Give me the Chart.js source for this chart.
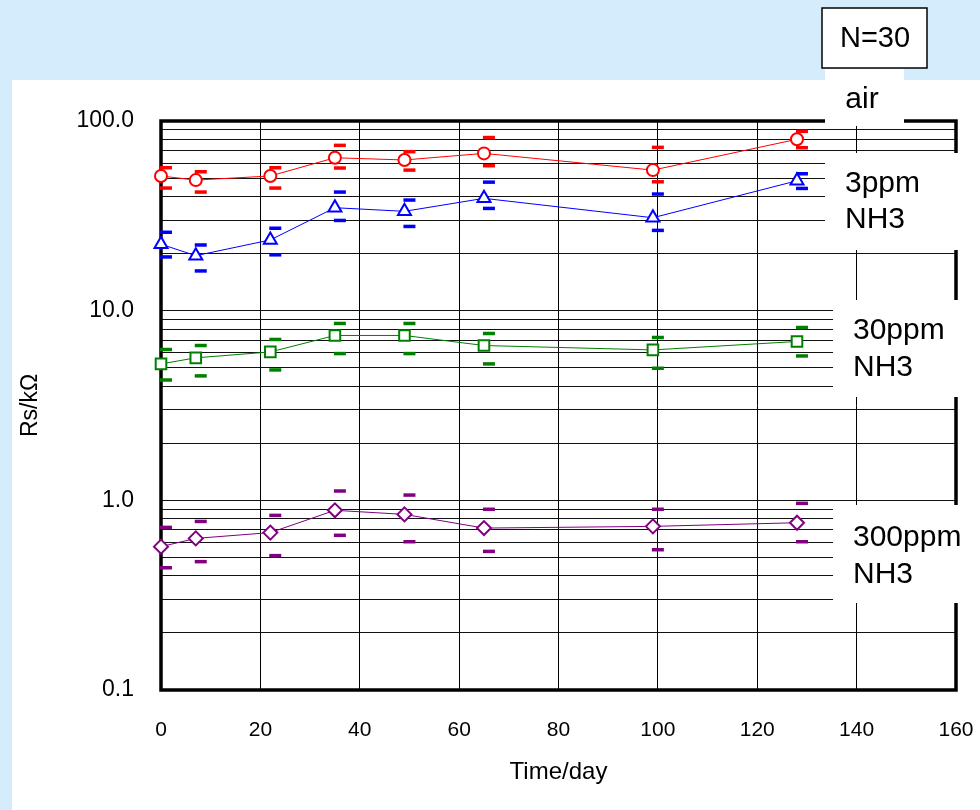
<!DOCTYPE html>
<html>
<head>
<meta charset="utf-8">
<script src="https://cdn.jsdelivr.net/npm/chart.js@4.4.1/dist/chart.umd.min.js"></script>
<style>
  html, body { margin: 0; padding: 0; background: #d4ecfb; }
  canvas { display: block; }
</style>
</head>
<body>
<canvas id="chart" width="980" height="810"></canvas>
<script>
// measurement days (x)
const days = [0, 7, 22, 35, 49, 65, 99, 128];

// air
const airVals = [51.3, 48.8, 51.3, 64.0, 62.3, 67.5, 55.1, 80.1];
const airHi   = [56.7, 54.0, 56.7, 74.4, 68.9, 81.8, 72.6, 88.2];
const airLo   = [44.3, 42.2, 44.3, 56.5, 55.1, 58.1, 47.8, 72.3];

// 3ppm NH3
const nh3_3Vals = [22.4, 19.5, 23.6, 34.9, 33.4, 39.1, 30.9, 48.4];
const nh3_3Hi   = [25.9, 22.2, 27.2, 42.2, 38.3, 47.6, 41.2, 52.7];
const nh3_3Lo   = [19.2, 16.2, 19.7, 29.9, 27.8, 34.6, 26.5, 44.1];

// 30ppm NH3
const nh3_30Vals = [5.24, 5.64, 6.06, 7.40, 7.40, 6.55, 6.21, 6.88];
const nh3_30Hi   = [6.24, 6.55, 7.05, 8.56, 8.56, 7.58, 7.22, 8.15];
const nh3_30Lo   = [4.31, 4.53, 4.87, 5.94, 5.94, 5.24, 4.97, 5.77];

// 300ppm NH3
const nh3_300Vals = [0.570, 0.630, 0.676, 0.886, 0.843, 0.714, 0.729, 0.762];
const nh3_300Hi   = [0.720, 0.774, 0.833, 1.120, 1.066, 0.897, 0.897, 0.964];
const nh3_300Lo   = [0.441, 0.475, 0.511, 0.654, 0.605, 0.538, 0.549, 0.605];

// axes
const xTickVals = [0, 20, 40, 60, 80, 100, 120, 140, 160];
const yGridVals = [0.1, 0.2, 0.3, 0.4, 0.5, 0.6, 0.7, 0.8, 0.9,
                   1, 2, 3, 4, 5, 6, 7, 8, 9,
                   10, 20, 30, 40, 50, 60, 70, 80, 90, 100];
const yLabelVals = [0.1, 1, 10, 100];
const yLabelText = ['0.1', '1.0', '10.0', '100.0'];

// side labels
const sideLabels = [['air'], ['3ppm', 'NH3'], ['30ppm', 'NH3'], ['300ppm', 'NH3']];
const nLabel = 'N=30';

const ERR_SHIFT = 1; // error dashes sit slightly right of the markers

function pts(vals) { return days.map((d, i) => ({ x: d, y: vals[i] })); }
function errPts(hi, lo) {
  return days.map((d, i) => ({ x: d + ERR_SHIFT, y: hi[i] }))
    .concat(days.map((d, i) => ({ x: d + ERR_SHIFT, y: lo[i] })));
}

function series(label, vals, color, style, radius) {
  return {
    type: 'line', label, data: pts(vals), borderColor: color, borderWidth: 1,
    pointStyle: style, pointRadius: radius, pointBorderWidth: 2,
    pointBackgroundColor: '#fff', pointBorderColor: color, clip: false, order: 1
  };
}
function errors(hi, lo, color) {
  return {
    type: 'scatter', data: errPts(hi, lo), showLine: false, pointStyle: 'line',
    pointRadius: 6, pointBorderWidth: 3.5, borderColor: color, pointBorderColor: color,
    clip: false, order: 2
  };
}

const FONT = 'Liberation Sans, Arial, sans-serif';

const backdrop = {
  id: 'backdrop',
  beforeDraw(chart) {
    const ctx = chart.ctx;
    ctx.save();
    ctx.fillStyle = '#d4ecfb';
    ctx.fillRect(0, 0, chart.width, chart.height);
    ctx.fillStyle = '#fff';
    ctx.fillRect(12, 80, chart.width - 12, chart.height - 80);
    ctx.restore();
  }
};

const frame = {
  id: 'frame',
  beforeDatasetsDraw(chart) {
    const { ctx, chartArea: a } = chart;
    ctx.save();
    ctx.strokeStyle = '#000';
    ctx.lineWidth = 3.5;
    ctx.strokeRect(a.left, a.top, a.right - a.left, a.bottom - a.top);
    ctx.restore();
  }
};

const notes = {
  id: 'notes',
  afterDraw(chart) {
    const ctx = chart.ctx;
    ctx.save();
    // white boxes that hide the grid behind the labels
    ctx.fillStyle = '#fff';
    ctx.fillRect(825, 69, 79, 57);
    ctx.fillRect(825, 153, 155, 97);
    ctx.fillRect(833, 300, 147, 97);
    ctx.fillRect(833, 505, 147, 98);
    // N=30 box
    ctx.fillRect(822, 8, 105, 60);
    ctx.strokeStyle = '#000';
    ctx.lineWidth = 1.5;
    ctx.strokeRect(822, 8, 105, 60);

    ctx.fillStyle = '#000';
    ctx.textBaseline = 'middle';
    ctx.textAlign = 'center';
    ctx.font = '29px ' + FONT;
    ctx.fillText(nLabel, 875, 39);
    ctx.font = '30px ' + FONT;
    ctx.fillText(sideLabels[0][0], 862, 100);
    ctx.textAlign = 'left';
    ctx.fillText(sideLabels[1][0], 845, 184);
    ctx.fillText(sideLabels[1][1], 845, 220);
    ctx.fillText(sideLabels[2][0], 853, 331);
    ctx.fillText(sideLabels[2][1], 853, 368);
    ctx.fillText(sideLabels[3][0], 853, 538);
    ctx.fillText(sideLabels[3][1], 853, 575);
    ctx.restore();
  }
};

new Chart(document.getElementById('chart'), {
  data: {
    datasets: [
      errors(airHi, airLo, '#ff0000'),
      errors(nh3_3Hi, nh3_3Lo, '#0000ff'),
      errors(nh3_30Hi, nh3_30Lo, '#008000'),
      errors(nh3_300Hi, nh3_300Lo, '#800080'),
      series('air', airVals, '#ff0000', 'circle', 6),
      series('3ppm NH3', nh3_3Vals, '#0000ff', 'triangle', 7.5),
      series('30ppm NH3', nh3_30Vals, '#008000', 'rect', 7.5),
      series('300ppm NH3', nh3_300Vals, '#800080', 'rectRot', 7)
    ]
  },
  options: {
    responsive: false,
    devicePixelRatio: 1,
    animation: false,
    layout: { padding: { left: 0, right: 24, top: 121, bottom: 0 } },
    plugins: { legend: { display: false }, tooltip: { enabled: false } },
    scales: {
      x: {
        type: 'linear', min: 0, max: 160,
        afterBuildTicks: s => { s.ticks = xTickVals.map(v => ({ value: v })); },
        afterFit: s => { s.height = 120; s.paddingLeft = 0; s.paddingRight = 0; },
        grid: { color: '#000', lineWidth: 1, drawTicks: false },
        border: { display: false },
        ticks: { color: '#000', font: { family: FONT, size: 21 }, padding: 28, autoSkip: false, maxRotation: 0 },
        title: { display: true, text: 'Time/day', color: '#000', font: { family: FONT, size: 24 }, padding: { top: 0, bottom: 23 } }
      },
      y: {
        type: 'logarithmic', min: 0.1, max: 100,
        afterBuildTicks: s => { s.ticks = yGridVals.map(v => ({ value: v })); },
        afterFit: s => { s.width = 161; s.paddingTop = 0; s.paddingBottom = 0; },
        grid: { color: '#111', lineWidth: 1, drawTicks: false },
        border: { display: false },
        ticks: {
          color: '#000', font: { family: FONT, size: 23 }, padding: 27, autoSkip: false,
          callback: v => {
            const i = yLabelVals.findIndex(t => Math.abs(t - v) < 1e-9);
            return i >= 0 ? yLabelText[i] : '';
          }
        },
        title: { display: true, text: 'Rs/kΩ', color: '#000', font: { family: FONT, size: 23 }, padding: { top: 17, bottom: 0 } }
      }
    }
  },
  plugins: [backdrop, frame, notes]
});
</script>
</body>
</html>
